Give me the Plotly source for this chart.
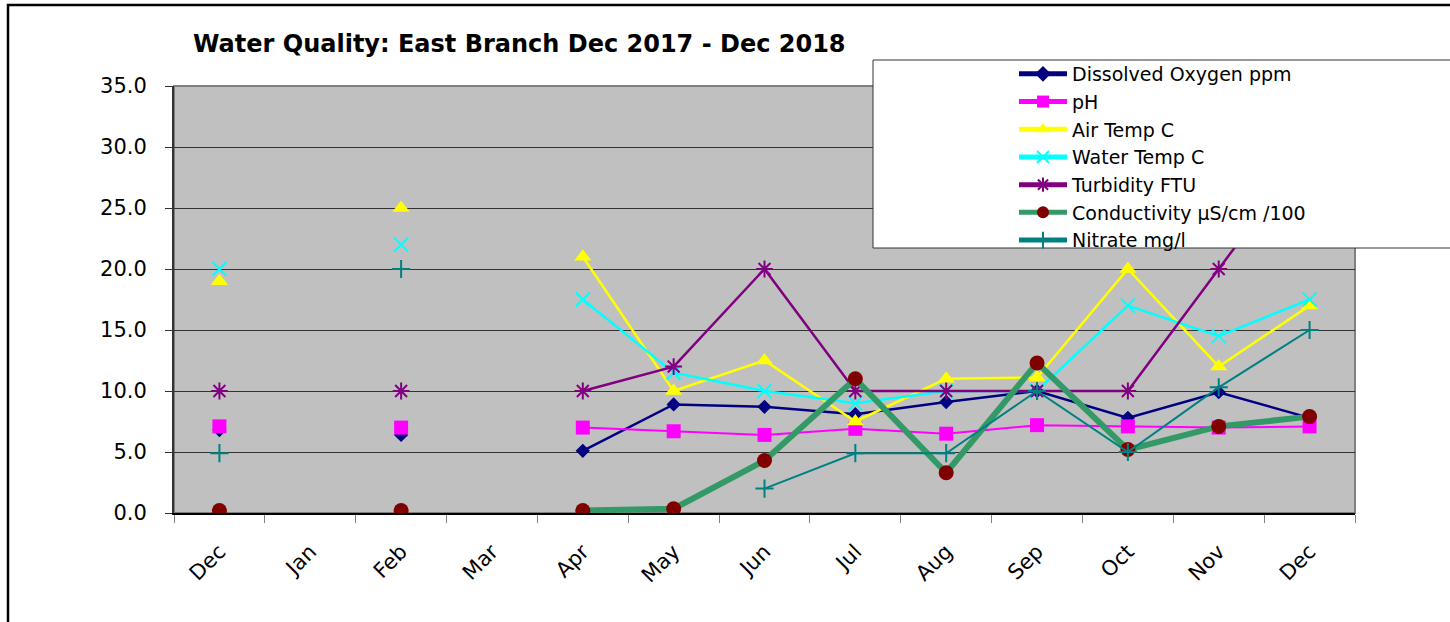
import plotly.graph_objects as go

months = ["Dec", "Jan", "Feb", "Mar", "Apr", "May", "Jun", "Jul", "Aug", "Sep", "Oct", "Nov", "Dec"]
x_pos = list(range(len(months)))

dissolved_oxygen = [6.8, None, 6.4, None, 5.1, 8.9, 8.7, 8.1, 9.1, 10.0, 7.8, 9.9, 7.8]
ph = [7.1, None, 7.0, None, 7.0, 6.7, 6.4, 6.9, 6.5, 7.2, 7.1, 7.0, 7.1]
air_temp = [19.0, None, 25.0, None, 21.0, 10.0, 12.5, 7.5, 11.0, 11.1, 20.0, 12.0, 17.0]
water_temp = [20.0, None, 22.0, None, 17.5, 11.5, 10.0, 9.0, 10.0, 10.0, 17.0, 14.5, 17.5]
turbidity = [10.0, None, 10.0, None, 10.0, 12.0, 20.0, 10.0, 10.0, 10.0, 10.0, 20.0, 30.0]
conductivity = [0.2, None, 0.2, None, 0.2, 0.35, 4.3, 11.0, 3.3, 12.3, 5.2, 7.1, 7.9]
nitrate = [4.9, None, 20.0, None, None, None, 2.0, 4.9, 4.9, 10.0, 5.0, 10.3, 15.0]

y_ticks = [0, 5, 10, 15, 20, 25, 30, 35]

FONT = "DejaVu Sans, Arial, sans-serif"

series = [
    ("Dissolved Oxygen ppm", dissolved_oxygen, "#000080", 2.5, dict(symbol="diamond", size=11, color="#000080")),
    ("pH", ph, "#FF00FF", 2, dict(symbol="square", size=14, color="#FF00FF")),
    ("Air Temp C", air_temp, "#FFFF00", 2.5, dict(symbol="triangle-up", size=15, color="#FFFF00")),
    ("Water Temp C", water_temp, "#00FFFF", 2.5, dict(symbol="x-thin-open", size=14, color="#00FFFF",
                                                     line=dict(color="#00FFFF", width=2))),
    ("Turbidity FTU", turbidity, "#800080", 2.5, dict(symbol="asterisk-open", size=14, color="#800080",
                                                      line=dict(color="#800080", width=2))),
    ("Conductivity µS/cm /100", conductivity, "#339966", 6, dict(symbol="circle", size=15, color="#800000")),
    ("Nitrate mg/l", nitrate, "#008080", 2, dict(symbol="cross-thin-open", size=13, color="#008080",
                                                 line=dict(color="#008080", width=2))),
]

fig = go.Figure()
for name, vals, color, lw, marker in series:
    fig.add_trace(go.Scatter(
        x=x_pos, y=vals, name=name, mode="lines+markers",
        line=dict(color=color, width=lw), marker=marker, connectgaps=False,
    ))

L, R, T, B = 174, 1355, 86, 513
W, H = R - L, B - T
def px(xp):
    return (xp - L) / W
def py(yp):
    return (B - yp) / H

# white legend panel covering part of the plot
fig.add_shape(type="rect", xref="paper", yref="paper",
              x0=px(873), x1=px(1452), y0=py(248), y1=py(60),
              fillcolor="white", line=dict(color="#333333", width=1), layer="above")
# outer chart border
fig.add_shape(type="rect", xref="paper", yref="paper",
              x0=px(8), x1=px(1470), y0=py(640), y1=py(5),
              fillcolor="rgba(0,0,0,0)", line=dict(color="black", width=2.5), layer="above")
# gray plot border
fig.add_shape(type="rect", xref="paper", yref="paper", x0=0, x1=1, y0=0, y1=1,
              line=dict(color="#808080", width=2), fillcolor="rgba(0,0,0,0)", layer="below")

fig.update_layout(
    width=1450, height=622,
    margin=dict(l=L, r=1450 - R, t=T, b=622 - B),
    paper_bgcolor="white", plot_bgcolor="#C0C0C0",
    font=dict(family=FONT, color="black"),
    title=dict(text="<b>Water Quality: East Branch Dec 2017 - Dec 2018</b>",
               x=193 / 1450, xanchor="left", y=1 - 44 / 622, yanchor="middle",
               font=dict(size=24, family=FONT, color="black")),
    showlegend=True,
    legend=dict(x=px(1014), xanchor="left", y=py(55), yanchor="top",
                bgcolor="rgba(0,0,0,0)", borderwidth=0,
                font=dict(size=19, family=FONT), tracegroupgap=0,
                itemwidth=48, itemsizing="constant"),
)

fig.update_xaxes(
    range=[-0.5, len(months) - 0.5],
    tickmode="array", tickvals=x_pos, ticktext=months,
    tickangle=-45, tickfont=dict(size=21, family=FONT),
    ticks="", showgrid=False, zeroline=False,
    showline=True, linecolor="black", linewidth=2, mirror=False,
    minor=dict(tick0=-0.5, dtick=1, ticks="outside", ticklen=8, tickcolor="#808080", tickwidth=1, showgrid=False),
    ticklabelstandoff=16,
)
fig.update_yaxes(
    range=[0, 35], tickmode="array", tickvals=y_ticks,
    ticktext=[f"{v:.1f}" for v in y_ticks],
    tickfont=dict(size=21, family=FONT),
    ticks="outside", ticklen=7, tickcolor="#333333",
    showgrid=True, gridcolor="#333333", gridwidth=1,
    zeroline=False, showline=True, linecolor="#333333", linewidth=2,
    ticklabelstandoff=14,
)

fig.write_html("out.html", config={"displayModeBar": False},
               post_script="document.body.style.margin='0';")
